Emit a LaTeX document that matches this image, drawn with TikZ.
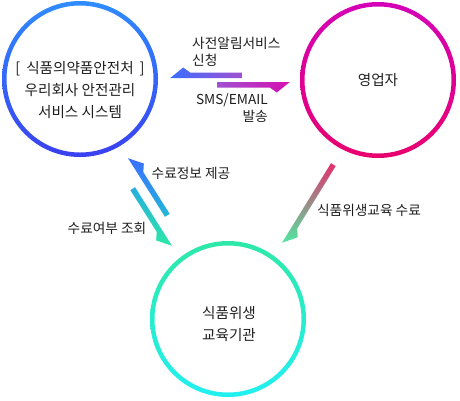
\documentclass[tikz,border=0pt]{standalone}
\usepackage{fontspec}
\setmainfont{Noto Sans CJK KR}
\usetikzlibrary{calc,positioning}
\definecolor{sysBlueTop}{RGB}{47,140,255}
\definecolor{sysBlueBot}{RGB}{58,64,240}
\definecolor{bizPinkTop}{RGB}{212,0,184}
\definecolor{bizPinkBot}{RGB}{232,0,110}
\definecolor{eduGreenTop}{RGB}{46,232,168}
\definecolor{eduCyanBot}{RGB}{34,240,240}
\definecolor{arBlue}{RGB}{58,110,255}
\definecolor{arPurple}{RGB}{160,80,210}
\definecolor{arMagenta}{RGB}{214,16,176}
\definecolor{arTeal}{RGB}{24,216,200}
\definecolor{arRose}{RGB}{228,48,110}
\definecolor{arMint}{RGB}{80,232,160}
\definecolor{txtgray}{RGB}{30,30,30}

\tikzset{
  hub/.style={circle, minimum size=156pt, inner sep=0pt},
  hubtext/.style={text=txtgray, align=center, inner sep=0pt, font=\fontsize{14.6}{22}\selectfont},
  lbl/.style={text=txtgray, inner sep=0pt, font=\fontsize{13.7}{17}\selectfont},
}

% half arrow head, filled and shaded: #1 shading, #2 tail, #3 tip, #4 barb side
\newcommand{\harpoon}[4]{%
  \coordinate (hpA) at ($(#3)!13pt!(#2)$);
  \coordinate (hpB) at ($(#3)!20pt!(#2)$);
  \shade[#1] (#2) -- (#3) -- ($(hpA)!10.5pt!#4:(#3)$) -- ($(hpB)!5.5pt!#4:(#3)$)
    -- ($(#2)!5.5pt!#4:(#3)$) -- cycle;
}

\begin{document}
\begin{tikzpicture}[x=1pt,y=-1pt]
    \useasboundingbox (0,0) rectangle (460,400);

    % circles
    \node[hub] (sys) at (80,79) {};
    \node[hub] (biz) at (378,80) {};
    \node[hub] (edu) at (228,319) {};
    \shade[top color=sysBlueTop, bottom color=sysBlueBot, even odd rule]
        (sys.center) circle[radius=78pt] (sys.center) circle[radius=73.5pt];
    \shade[top color=bizPinkTop, bottom color=bizPinkBot, even odd rule]
        (biz.center) circle[radius=78pt] (biz.center) circle[radius=73.5pt];
    \shade[top color=eduGreenTop, bottom color=eduCyanBot, even odd rule]
        (edu.center) circle[radius=78pt] (edu.center) circle[radius=73.5pt];

    \node[hubtext] (systxt) at ($(sys.center)+(0,11)$) {[\hspace{0.4em}식품의약품안전처\hspace{0.4em}]\\우리회사 안전관리\\서비스 시스템};
    \node[hubtext] (biztxt) at (biz.center) {영업자};
    \node[hubtext] (edutxt) at ($(edu.center)+(1,5)$) {식품위생\\교육기관};

    % arrow ends
    \coordinate (a1tip) at ($(sys.east)+(12,-1)$);
    \coordinate (a1tail) at ($(biz.west)+(-58,-2)$);
    \coordinate (a2tail) at ($(sys.east)+(59,3)$);
    \coordinate (a2tip) at ($(biz.west)+(-10,2)$);
    \coordinate (a3tip) at ($(sys.south)+(48,1)$);
    \coordinate (a3tail) at ($(edu.north)+(-63,-24)$);
    \coordinate (a4tail) at ($(sys.south)+(55,30)$);
    \coordinate (a4tip) at ($(edu.north)+(-56,5)$);
    \coordinate (a5tail) at ($(biz.south)+(-47,5)$);
    \coordinate (a5tip) at ($(edu.north)+(54,2)$);

    % arrows
    \harpoon{left color=arBlue, right color=arPurple}{a1tail}{a1tip}{-90}
    \harpoon{left color=arPurple, right color=arMagenta}{a2tail}{a2tip}{-90}
    \harpoon{top color=arBlue, bottom color=arTeal!70!arBlue}{a3tail}{a3tip}{-90}
    \harpoon{top color=arTeal!60!arBlue, bottom color=eduGreenTop}{a4tail}{a4tip}{-90}
    \harpoon{top color=arRose, bottom color=arMint}{a5tail}{a5tip}{90}

    % labels
    \node[lbl, align=left, anchor=west] (req) at (192,51.5) {사전알림서비스\\신청};
    \node[lbl, align=right, anchor=east] (send) at (268,108) {SMS/EMAIL\\발송};
    \node[lbl] (give) at (191,173) {수료정보 제공};
    \node[lbl] (ask) at (107,228) {수료여부 조회};
    \node[lbl] (done) at (369,210) {식품위생교육 수료};
\end{tikzpicture}
\end{document}
